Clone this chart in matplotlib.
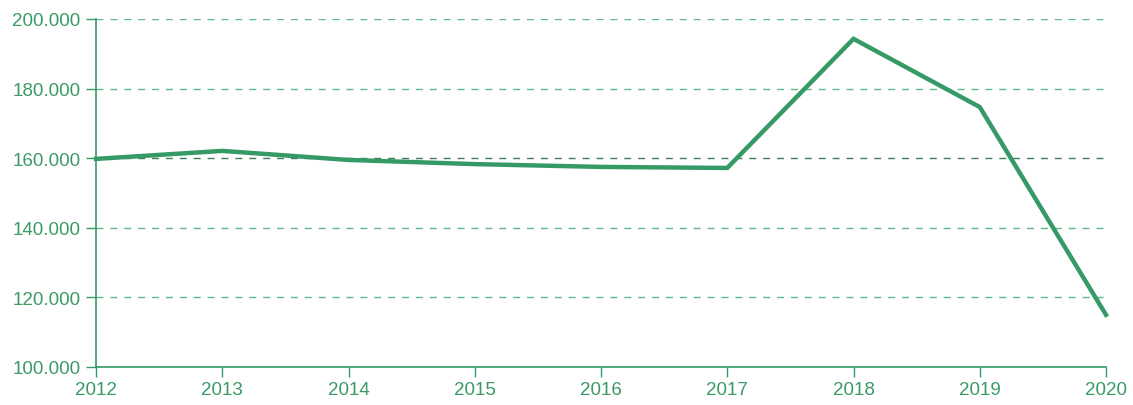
import matplotlib
matplotlib.use("Agg")
import matplotlib.pyplot as plt

years = [2012, 2013, 2014, 2015, 2016, 2017, 2018, 2019, 2020]
values = [159.8, 162.1, 159.5, 158.3, 157.5, 157.2, 194.3, 174.7, 115.0]
yticks = [100, 120, 140, 160, 180, 200]
ylabels = ["100.000", "120.000", "140.000", "160.000", "180.000", "200.000"]

green = "#359a66"
grid_green = "#5fb889"

plt.rcParams['font.family'] = ['Liberation Sans', 'DejaVu Sans']

fig = plt.figure(figsize=(11.33, 4.06), dpi=100)
ax = fig.add_axes([96/1133, 1-368/406, (1106-96)/1133, (368-20)/406])

for y in yticks[1:]:
    c = "#3f7d5e" if y == 160 else grid_green
    ax.axhline(y, color=c, linestyle=(0, (5, 5)), linewidth=1.0, zorder=1)

ax.plot(years, values, color=green, linewidth=3.2, zorder=3,
        solid_joinstyle='miter', clip_on=False)

ax.set_xlim(2012, 2020)
ax.set_ylim(100, 200)
ax.set_xticks(years)
ax.set_yticks(yticks)
ax.set_yticklabels(ylabels)

for s in ['top', 'right']:
    ax.spines[s].set_visible(False)
for s in ['left', 'bottom']:
    ax.spines[s].set_color(green)
    ax.spines[s].set_linewidth(1.2)

ax.tick_params(axis='both', colors=green, labelsize=13.5, length=7, width=1.0, direction='out')
ax.tick_params(axis='y', pad=4)
ax.tick_params(axis='x', pad=3)
for lab in ax.get_xticklabels() + ax.get_yticklabels():
    lab.set_color("#3a9a66")

fig.savefig("out.png", dpi=100)
